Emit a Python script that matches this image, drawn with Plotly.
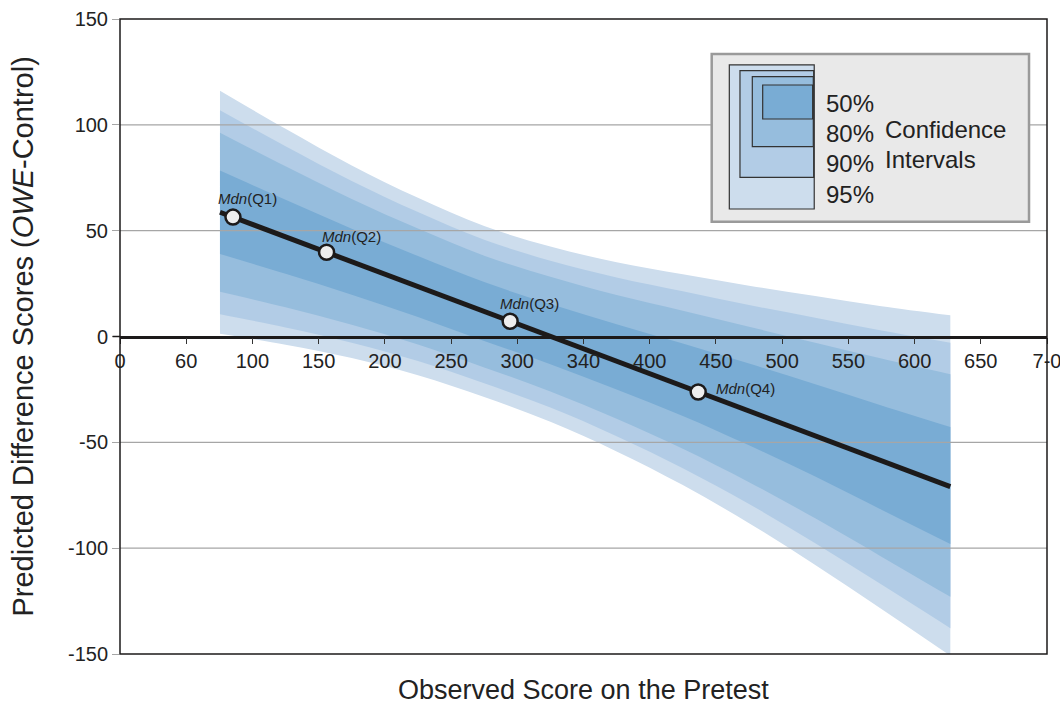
import plotly.graph_objects as go

# ---------------- data ----------------
x_grid = [75.5, 125, 175, 225, 275, 325, 375, 425, 475, 525, 575, 627]

ci95_upper = [116.1, 98.1, 80.8, 65.5, 52.2, 42.5, 35.1, 29.4, 24.0, 19.1, 14.3, 10.0]
ci95_lower = [1.3, -3.9, -10.2, -18.3, -28.6, -40.3, -54.3, -70.2, -88.2, -107.9, -128.7, -150.8]
ci90_upper = [106.9, 89.9, 73.5, 58.8, 45.7, 35.8, 27.9, 21.4, 14.9, 8.9, 2.8, -3.0]
ci90_lower = [10.5, 4.3, -2.9, -11.6, -22.1, -33.6, -47.1, -62.2, -79.1, -97.7, -117.2, -137.8]
ci80_upper = [96.3, 80.4, 65.0, 51.0, 38.2, 28.2, 19.6, 12.2, 4.6, -2.9, -10.4, -17.8]
ci80_lower = [21.1, 13.8, 5.6, -3.8, -14.6, -26.0, -38.8, -53.0, -68.8, -85.9, -104.0, -123.0]
ci50_upper = [78.4, 64.6, 50.9, 38.0, 25.7, 15.3, 5.8, -3.3, -12.8, -22.6, -32.6, -42.8]
ci50_lower = [39.0, 29.6, 19.7, 9.2, -2.1, -13.1, -25.0, -37.5, -51.4, -66.2, -81.8, -98.0]

fit_x = [75.5, 627]
fit_y = [58.7, -70.9]

median_names = ["Q1", "Q2", "Q3", "Q4"]
median_x = [85.3, 156.0, 294.6, 436.6]
median_y = [56.4, 39.8, 7.2, -26.2]

x_tick_vals = [0, 50, 100, 150, 200, 250, 300, 350, 400, 450, 500, 550, 600, 650, 700]
x_tick_text = ["0", "60", "100", "150", "200", "250", "300", "340", "400", "450",
               "500", "550", "600", "650", "7-0"]
y_tick_vals = [-150, -100, -50, 0, 50, 100, 150]
y_tick_text = ["-150", "-100", "-50", "0", "50", "100", "150"]
y_grid_vals = [100, 50, -50, -100]

x_range = [0, 700]
y_range = [-150, 150]

ci_levels = ["95%", "90%", "80%", "50%"]
ci_colors = ["#cddded", "#b2cce6", "#96bddd", "#79acd4"]

FONT = "Liberation Sans, Arial, Helvetica, sans-serif"

fig = go.Figure()

bands = [(ci95_lower, ci95_upper), (ci90_lower, ci90_upper),
         (ci80_lower, ci80_upper), (ci50_lower, ci50_upper)]
for (lo, hi), col, name in zip(bands, ci_colors, ci_levels):
    fig.add_trace(go.Scatter(x=x_grid, y=lo, mode="lines",
                             line=dict(width=0, shape="spline", smoothing=1.0),
                             hoverinfo="skip", showlegend=False))
    fig.add_trace(go.Scatter(x=x_grid, y=hi, mode="lines", fill="tonexty",
                             fillcolor=col, name=name,
                             line=dict(width=0, shape="spline", smoothing=1.0),
                             hoverinfo="skip", showlegend=False))

# gridlines drawn over the bands
for g in y_grid_vals:
    fig.add_trace(go.Scatter(x=x_range, y=[g, g], mode="lines",
                             line=dict(color="#a6a6a6", width=1.4),
                             hoverinfo="skip", showlegend=False))

# fitted line
fig.add_trace(go.Scatter(x=fit_x, y=fit_y, mode="lines",
                         line=dict(color="#1c1a1a", width=5),
                         showlegend=False))

# medians
fig.add_trace(go.Scatter(x=median_x, y=median_y, mode="markers",
                         marker=dict(size=15, color="#eeeeee",
                                     line=dict(color="#1c1a1a", width=2.5)),
                         showlegend=False))

annotations = []
label_offsets = [(15, 19, "center"), (25, 16, "center"), (19, 18, "center"), (16, 3, "left")]
for nm, mx, my, (dx, dy, anc) in zip(median_names, median_x, median_y, label_offsets):
    annotations.append(dict(x=mx, y=my, xref="x", yref="y",
                            text=f"<i>Mdn</i>({nm})", showarrow=False,
                            xanchor=anc, yanchor="middle", xshift=dx, yshift=dy,
                            font=dict(family=FONT, size=15, color="#222222")))

# axis titles
annotations.append(dict(x=0.5, y=-0.0567, xref="paper", yref="paper",
                        text="Observed Score on the Pretest", showarrow=False,
                        xanchor="center", yanchor="middle",
                        font=dict(family=FONT, size=27, color="#222222")))
annotations.append(dict(x=-0.1057, y=0.5, xref="paper", yref="paper",
                        text="Predicted Difference Scores (<i>OWE</i>-Control)",
                        showarrow=False, textangle=-90,
                        xanchor="center", yanchor="middle",
                        font=dict(family=FONT, size=29, color="#222222")))

# legend box (custom)
shapes = []
shapes.append(dict(type="rect", xref="paper", yref="paper",
                   x0=0.6383, x1=0.9806, y0=0.6808, y1=0.9449,
                   fillcolor="#e9e9e9", line=dict(color="#9a9a9a", width=2.5),
                   layer="above"))
leg_rects = [(0.6573, 0.7489, 0.7008, 0.9276),
             (0.6688, 0.7483, 0.7507, 0.9186),
             (0.6821, 0.7479, 0.7989, 0.9091),
             (0.6933, 0.7472, 0.8425, 0.8961)]
for (x0, x1, y0, y1), col in zip(leg_rects, ci_colors):
    shapes.append(dict(type="rect", xref="paper", yref="paper",
                       x0=x0, x1=x1, y0=y0, y1=y1, fillcolor=col,
                       line=dict(color="#333333", width=1.2), layer="above"))
leg_text_y = [0.7244, 0.7717, 0.8189, 0.8677]
for lab, ty in zip(ci_levels, leg_text_y):
    annotations.append(dict(x=0.7594, y=ty, xref="paper", yref="paper", text=lab,
                            showarrow=False, xanchor="left", yanchor="middle",
                            font=dict(family=FONT, size=24, color="#222222")))
annotations.append(dict(x=0.8231, y=0.8252, xref="paper", yref="paper", text="Confidence",
                        showarrow=False, xanchor="left", yanchor="middle",
                        font=dict(family=FONT, size=24, color="#222222")))
annotations.append(dict(x=0.8231, y=0.7780, xref="paper", yref="paper", text="Intervals",
                        showarrow=False, xanchor="left", yanchor="middle",
                        font=dict(family=FONT, size=24, color="#222222")))

# frame
shapes.append(dict(type="rect", xref="paper", yref="paper", x0=0, x1=1, y0=0, y1=1,
                   line=dict(color="#1c1a1a", width=1.5), layer="above"))
# black tick at y=0
shapes.append(dict(type="line", xref="paper", yref="y", x0=-0.008, x1=0, y0=0, y1=0,
                   line=dict(color="#1c1a1a", width=1.5), layer="above"))

fig.update_layout(
    width=1060, height=706,
    margin=dict(l=120, r=13, t=19, b=52, autoexpand=False),
    paper_bgcolor="white", plot_bgcolor="white",
    font=dict(family=FONT, color="#222222"),
    showlegend=False,
    xaxis=dict(range=x_range, tickvals=x_tick_vals, ticktext=x_tick_text,
               anchor="free", position=0.5, showline=True,
               linecolor="#1c1a1a", linewidth=2.5, ticks="outside", ticklen=6,
               tickcolor="#333333", tickwidth=1.2,
               tickfont=dict(family=FONT, size=20, color="#222222"),
               showgrid=False, zeroline=False, ticklabeloverflow="allow",
               automargin=False, layer="above traces"),
    yaxis=dict(range=y_range, tickvals=y_tick_vals, ticktext=y_tick_text,
               ticks="outside", ticklen=7,
               tickcolor="#a6a6a6", tickwidth=1.4, showline=False,
               tickfont=dict(family=FONT, size=20, color="#222222"),
               showgrid=False, zeroline=False, automargin=False),
    shapes=shapes,
    annotations=annotations,
)

fig.write_html("out.html",
               config={"displayModeBar": False},
               post_script="document.body.style.margin='0';document.body.style.overflow='hidden';")
